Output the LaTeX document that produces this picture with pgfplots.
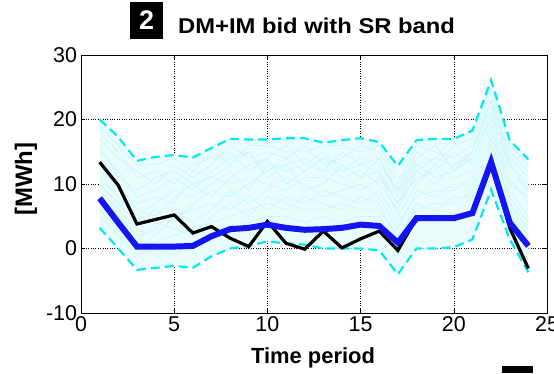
\documentclass[border=0pt]{standalone}
\usepackage{pgfplots}
\pgfplotsset{compat=1.18}
\usepackage{fontspec}
\setmainfont{Liberation Sans}
\definecolor{scen}{RGB}{196,246,246}
\definecolor{bandfill}{RGB}{232,252,252}
\definecolor{bound}{RGB}{0,235,240}
\definecolor{bidblue}{RGB}{20,20,245}

\begin{document}
\begin{tikzpicture}[x=1bp,y=1bp]
\useasboundingbox (-81,-60) rectangle (473,313);
\begin{axis}[
  at={(0,0)}, anchor=south west,
  scale only axis, width=466bp, height=258bp,
  xmin=0, xmax=25, ymin=-10, ymax=30,
  xtick={0,5,...,25}, ytick={-10,0,...,30},
  grid=major,
  major grid style={black, dotted, line width=0.6pt},
  tick align=inside, tick pos=both,
  major tick length=4bp,
  axis line style={black, line width=0.6pt},
  tick style={black, line width=0.6pt},
  ticklabel style={font=\fontsize{21.5}{22}\selectfont},
  /pgf/number format/assume math mode=true,
  xticklabel style={yshift=-0.5bp},
  yticklabel style={xshift=-0.5bp},
  clip=true,
]
% envelope of the scenario set
\addplot[draw=none, fill=bandfill] coordinates {
 (1,20) (2,17.3) (3,13.6) (4,14.2) (5,14.5) (6,14.1) (7,15.6) (8,17.0)
 (9,16.9) (10,16.9) (11,17.1) (12,17.1) (13,16.4) (14,16.8) (15,17.1)
 (16,16.5) (17,12.8) (18,16.8) (19,17.0) (20,17.0) (21,18.3) (22,26.1)
 (23,16.8) (24,13.8)
 (24,-3.7) (23,1.4) (22,9.1) (21,1.4) (20,0.2) (19,0) (18,0) (17,-4.0)
 (16,-0.3) (15,0) (14,0) (13,0) (12,0.6) (11,0.8) (10,1.1) (9,0.4)
 (8,0) (7,-1.2) (6,-3.0) (5,-2.7) (4,-3.0) (3,-3.3) (2,0) (1,3.2)
} -- cycle;
% individual scenarios
\addplot[scen, line width=0.5pt] coordinates {(1,18)(2,15)(3,11)(4,12)(5,10)(6,13)(7,14)(8,15)(9,12)(10,14)(11,16)(12,13)(13,15)(14,12)(15,14)(16,13)(17,9)(18,15)(19,13)(20,16)(21,17)(22,24)(23,14)(24,11)};
\addplot[scen, line width=0.5pt] coordinates {(1,15)(2,12)(3,8)(4,9)(5,11)(6,9)(7,12)(8,14)(9,15)(10,11)(11,13)(12,14)(13,12)(14,15)(15,13)(16,14)(17,8)(18,14)(19,16)(20,12)(21,15)(22,22)(23,12)(24,9)};
\addplot[scen, line width=0.5pt] coordinates {(1,12)(2,10)(3,6)(4,5)(5,8)(6,10)(7,8)(8,11)(9,13)(10,14)(11,10)(12,12)(13,14)(14,11)(15,12)(16,10)(17,6)(18,12)(19,10)(20,13)(21,14)(22,20)(23,11)(24,7)};
\addplot[scen, line width=0.5pt] coordinates {(1,10)(2,7)(3,4)(4,6)(5,4)(6,7)(7,9)(8,8)(9,10)(10,12)(11,13)(12,9)(13,10)(14,13)(15,11)(16,12)(17,5)(18,10)(19,13)(20,11)(21,12)(22,18)(23,9)(24,5)};
\addplot[scen, line width=0.5pt] coordinates {(1,8)(2,5)(3,2)(4,3)(5,6)(6,4)(7,6)(8,9)(9,7)(10,9)(11,11)(12,10)(13,8)(14,9)(15,10)(16,8)(17,3)(18,9)(19,8)(20,10)(21,10)(22,16)(23,8)(24,4)};
\addplot[scen, line width=0.5pt] coordinates {(1,6)(2,3)(3,0)(4,1)(5,2)(6,3)(7,4)(8,5)(9,6)(10,7)(11,6)(12,8)(13,7)(14,6)(15,8)(16,7)(17,1)(18,7)(19,6)(20,8)(21,8)(22,14)(23,6)(24,2)};
\addplot[scen, line width=0.5pt] coordinates {(1,5)(2,2)(3,-1)(4,0)(5,-1)(6,1)(7,2)(8,3)(9,4)(10,5)(11,5)(12,4)(13,5)(14,4)(15,5)(16,5)(17,-1)(18,5)(19,4)(20,5)(21,6)(22,12)(23,4)(24,0)};
\addplot[scen, line width=0.5pt] coordinates {(1,17)(2,14)(3,12)(4,10)(5,13)(6,11)(7,13)(8,16)(9,14)(10,15)(11,14)(12,16)(13,13)(14,14)(15,16)(16,15)(17,10)(18,16)(19,15)(20,14)(21,16)(22,23)(23,15)(24,12)};
\addplot[scen, line width=0.5pt] coordinates {(1,13)(2,9)(3,7)(4,8)(5,7)(6,12)(7,11)(8,10)(9,11)(10,10)(11,9)(12,11)(13,11)(14,10)(15,9)(16,11)(17,7)(18,11)(19,12)(20,15)(21,13)(22,19)(23,10)(24,8)};
\addplot[scen, line width=0.5pt] coordinates {(1,9)(2,6)(3,3)(4,2)(5,5)(6,6)(7,7)(8,6)(9,8)(10,6)(11,8)(12,7)(13,9)(14,8)(15,7)(16,9)(17,4)(18,8)(19,9)(20,9)(21,11)(22,17)(23,7)(24,3)};
\addplot[scen, line width=0.5pt] coordinates {(1,19)(2,16)(3,13)(4,13)(5,14)(6,12)(7,15)(8,13)(9,16)(10,16)(11,15)(12,15)(13,16)(14,16)(15,15)(16,16)(17,11)(18,13)(19,14)(20,17)(21,18)(22,25)(23,16)(24,13)};
\addplot[scen, line width=0.5pt] coordinates {(1,11)(2,8)(3,5)(4,7)(5,9)(6,8)(7,10)(8,12)(9,9)(10,13)(11,12)(12,13)(13,12)(14,12)(15,13)(16,12)(17,7)(18,13)(19,11)(20,12)(21,14)(22,21)(23,13)(24,10)};
\addplot[scen, line width=0.5pt] coordinates {(1,16)(2,11)(3,9)(4,11)(5,12)(6,10)(7,11)(8,13)(9,15)(10,12)(11,14)(12,12)(13,14)(14,13)(15,11)(16,14)(17,9)(18,12)(19,14)(20,13)(21,15)(22,23)(23,13)(24,9)};
\addplot[scen, line width=0.5pt] coordinates {(1,7)(2,4)(3,1)(4,4)(5,3)(6,2)(7,5)(8,7)(9,5)(10,8)(11,7)(12,6)(13,6)(14,7)(15,6)(16,6)(17,2)(18,6)(19,7)(20,7)(21,9)(22,15)(23,5)(24,1)};
% upper and lower limits of the reserve band
\addplot[bound, line width=2.2pt, dash pattern=on 9bp off 5bp] coordinates {
 (1,20) (2,17.3) (3,13.6) (4,14.2) (5,14.5) (6,14.1) (7,15.6) (8,17.0)
 (9,16.9) (10,16.9) (11,17.1) (12,17.1) (13,16.4) (14,16.8) (15,17.1)
 (16,16.5) (17,12.8) (18,16.8) (19,17.0) (20,17.0) (21,18.3) (22,26.1)
 (23,16.8) (24,13.8)};
\addplot[bound, line width=2.2pt, dash pattern=on 9bp off 5bp] coordinates {
 (1,3.2) (2,0) (3,-3.3) (4,-3.0) (5,-2.7) (6,-3.0) (7,-1.2) (8,0)
 (9,0.4) (10,1.1) (11,0.8) (12,0.6) (13,0) (14,0) (15,0) (16,-0.3)
 (17,-4.0) (18,0) (19,0) (20,0.2) (21,1.4) (22,9.1) (23,1.4) (24,-3.7)};
% realised energy
\addplot[black, line width=3.2pt, line join=miter] coordinates {
 (1,13.4) (2,9.8) (3,3.8) (4,4.5) (5,5.2) (6,2.4) (7,3.4) (8,1.6)
 (9,0.3) (10,4.2) (11,0.8) (12,-0.1) (13,2.7) (14,0.1) (15,1.5) (16,2.7)
 (17,-0.3) (18,4.7) (19,4.7) (20,4.7) (21,5.5) (22,13.4) (23,3.2) (24,-3.1)};
% DM+IM bid
\addplot[bidblue, line width=6pt, line join=miter] coordinates {
 (1,7.8) (2,4.0) (3,0.3) (4,0.3) (5,0.3) (6,0.4) (7,1.9) (8,3.0)
 (9,3.2) (10,3.7) (11,3.2) (12,2.9) (13,3.0) (14,3.2) (15,3.7) (16,3.5)
 (17,0.9) (18,4.7) (19,4.7) (20,4.7) (21,5.5) (22,13.4) (23,4.0) (24,0.4)};
\end{axis}
% title with panel number
\node[fill=black, text=white, font=\bfseries\fontsize{27}{27}\selectfont,
      minimum width=33bp, minimum height=37bp, inner sep=0pt] at (65.5,292.5) {2};
\node[anchor=base west, font=\bfseries\fontsize{21.5}{24}\selectfont, inner sep=0pt,
      xscale=1.11, transform shape] at (97,280) {DM+IM bid with SR band};
\node[font=\bfseries\fontsize{22}{24}\selectfont] at (232,-45) {Time period};
\node[rotate=90, font=\bfseries\fontsize{24}{26}\selectfont] at (-55,134) {[MWh]};
\fill[black] (421,-60) rectangle (452,-53);
\end{tikzpicture}
\end{document}
